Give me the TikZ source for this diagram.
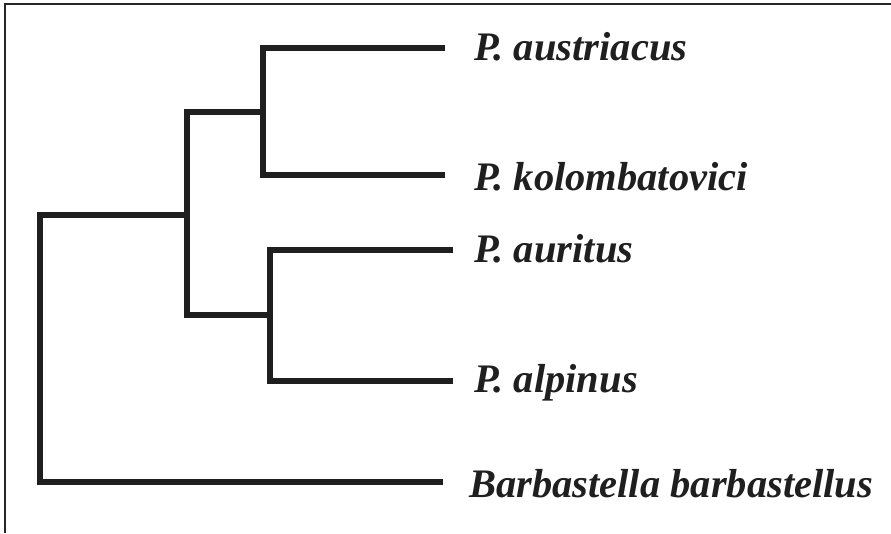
\documentclass[tikz,border=0pt]{standalone}
\usepackage{fontspec}
\setmainfont{Liberation Serif}
\begin{document}
\begin{tikzpicture}[x=1pt,y=-1pt,
  branch/.style={line width=6.5pt,draw=black!88,line cap=rect,line join=miter},
  frame/.style={line width=2pt,draw=black!85},
  taxon/.style={anchor=base west,inner sep=0pt,font=\fontsize{40.5}{43}\selectfont\bfseries\itshape,text=black!88}]
\useasboundingbox (0,0) rectangle (891,533);
\fill[white] (0,0) rectangle (891,533);
% frame (top and left)
\coordinate (f1) at (5,533);
\coordinate (f2) at (5,4);
\coordinate (f3) at (891,4);
\draw[frame] (f1) -- (f2) -- (f3);
% internal nodes
\coordinate (root) at (40,215);
\coordinate (n1) at (187,215);
\coordinate (n2) at (263,112);
\coordinate (n3) at (270,315);
% tips
\coordinate (t1) at (442,48);
\coordinate (t2) at (442,175);
\coordinate (t3) at (450,250);
\coordinate (t4) at (450,381);
\coordinate (t5) at (440,482);
% labels
\node[taxon] (l1) at (474,60) {P. austriacus};
\node[taxon] (l2) at (474,190) {P. kolombatovici};
\node[taxon] (l3) at (474,262) {P. auritus};
\node[taxon] (l4) at (474,392) {P. alpinus};
\node[taxon] (l5) at (469,497) {Barbastella barbastellus};
% branches
\draw[branch] (t1) -| (n2) |- (t2);
\draw[branch] (t3) -| (n3) |- (t4);
\draw[branch] (n2) -| (n1) |- (n3);
\draw[branch] (n1) -| (root) |- (t5);
\end{tikzpicture}
\end{document}
